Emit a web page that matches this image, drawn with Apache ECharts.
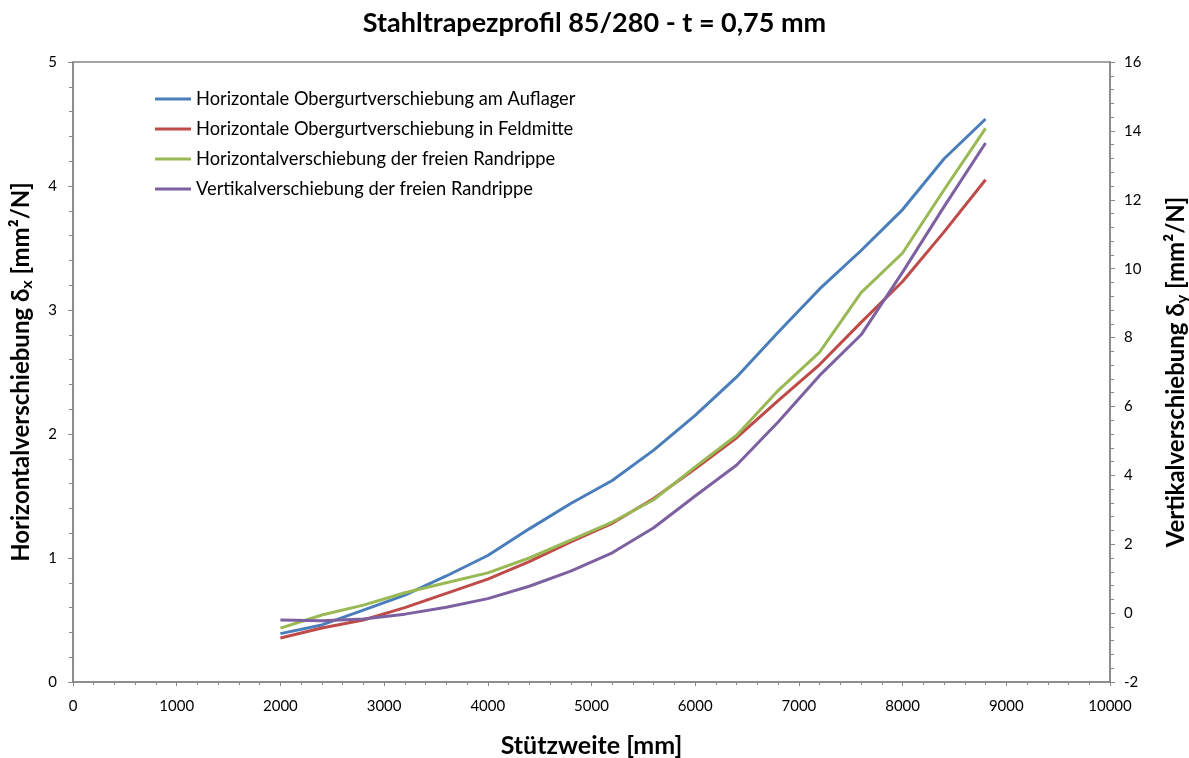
<!DOCTYPE html>
<html>
<head>
<meta charset="utf-8">
<script src="https://cdn.jsdelivr.net/npm/echarts@6/dist/echarts.min.js"></script>
<style>
  html, body { margin: 0; padding: 0; background: #ffffff; }
  #chart { width: 1189px; height: 758px; }
</style>
</head>
<body>
<div id="chart"></div>
<script>
// Span lengths (mm)
const spans = [2000, 2400, 2800, 3200, 3600, 4000, 4400, 4800, 5200, 5600, 6000, 6400, 6800, 7200, 7600, 8000, 8400, 8800];

// Horizontal displacements (left axis, mm²/N)
const obergurtAuflager = [0.39, 0.46, 0.58, 0.70, 0.855, 1.02, 1.235, 1.44, 1.625, 1.87, 2.15, 2.46, 2.82, 3.17, 3.48, 3.81, 4.22, 4.54];
const obergurtFeldmitte = [0.355, 0.435, 0.50, 0.60, 0.715, 0.83, 0.97, 1.13, 1.28, 1.48, 1.72, 1.97, 2.27, 2.56, 2.90, 3.23, 3.63, 4.05];
const randrippeHorizontal = [0.435, 0.54, 0.62, 0.72, 0.80, 0.88, 1.00, 1.145, 1.29, 1.47, 1.735, 1.99, 2.35, 2.66, 3.14, 3.46, 3.97, 4.465];

// Vertical displacement (right axis, mm²/N)
const randrippeVertikal = [-0.20, -0.22, -0.17, -0.03, 0.17, 0.42, 0.78, 1.22, 1.75, 2.48, 3.40, 4.30, 5.55, 6.90, 8.08, 9.90, 11.80, 13.65];

const seriesNames = [
  'Horizontale Obergurtverschiebung am Auflager',
  'Horizontale Obergurtverschiebung in Feldmitte',
  'Horizontalverschiebung der freien Randrippe',
  'Vertikalverschiebung der freien Randrippe'
];
const colors = ['#4A7EBB', '#BE4B48', '#98B954', '#7D60A0'];

const FONT = 'Lato';
const axisGray = '#868686';

function pairs(ys) { return spans.map((x, i) => [x, ys[i]]); }

function lineSeries(idx, ys, yAxisIndex) {
  return {
    name: seriesNames[idx],
    type: 'line',
    yAxisIndex: yAxisIndex,
    data: pairs(ys),
    showSymbol: false,
    symbol: 'none',
    lineStyle: { color: colors[idx], width: 3 },
    itemStyle: { color: colors[idx] },
    animation: false
  };
}

const axisNameRich = {
  a: { fontFamily: FONT, fontWeight: 'bold', fontSize: 24, color: '#000' },
  s: { fontFamily: FONT, fontWeight: 'bold', fontSize: 16, color: '#000', padding: [12, 0, 0, 0], verticalAlign: 'bottom' }
};

const plainNumber = v => String(v);

const chart = echarts.init(document.getElementById('chart'), null, { renderer: 'canvas' });
chart.setOption({
  backgroundColor: '#ffffff',
  animation: false,
  color: colors,
  title: {
    text: 'Stahltrapezprofil 85/280 - t = 0,75 mm',
    left: 'center',
    top: 5,
    textStyle: { fontFamily: FONT, fontWeight: 'bold', fontSize: 27, color: '#000' }
  },
  legend: {
    orient: 'vertical',
    left: 150,
    top: 85,
    itemGap: 12,
    itemWidth: 36,
    itemHeight: 3,
    icon: 'rect',
    textStyle: { fontFamily: FONT, fontSize: 18.3, color: '#000' },
    data: seriesNames
  },
  grid: {
    left: 73, right: 79, top: 62, bottom: 76,
    outerBoundsMode: 'none',
    containLabel: false,
    show: true, borderColor: axisGray, borderWidth: 1.5, backgroundColor: 'transparent'
  },
  xAxis: {
    type: 'value',
    min: 0, max: 10000, interval: 1000,
    name: 'Stützweite [mm]',
    nameLocation: 'middle',
    nameGap: 51,
    nameTextStyle: { fontFamily: FONT, fontWeight: 'bold', fontSize: 25, color: '#000' },
    axisLine: { show: true, onZero: false, lineStyle: { color: axisGray, width: 1.5 } },
    axisTick: { show: true, length: 4, lineStyle: { color: axisGray } },
    minorTick: { show: true, splitNumber: 5, length: 3, lineStyle: { color: axisGray } },
    axisLabel: { fontFamily: FONT, fontSize: 15, color: '#000', margin: 17, formatter: plainNumber },
    splitLine: { show: false }
  },
  yAxis: [
    {
      type: 'value',
      position: 'left',
      min: 0, max: 5, interval: 1,
      name: '{a|Horizontalverschiebung δ}{s|x}{a| [mm²/N]}',
      nameLocation: 'middle',
      nameRotate: 90,
      nameGap: 38,
      nameTextStyle: { rich: axisNameRich },
      axisLine: { show: true, lineStyle: { color: axisGray, width: 1.5 } },
      axisTick: { show: true, length: 5, lineStyle: { color: axisGray } },
      minorTick: { show: true, splitNumber: 5, length: 4, lineStyle: { color: axisGray } },
      axisLabel: { fontFamily: FONT, fontSize: 15, color: '#000', margin: 16, formatter: plainNumber },
      splitLine: { show: false }
    },
    {
      type: 'value',
      position: 'right',
      min: -2, max: 16, interval: 2,
      name: '{a|Vertikalverschiebung δ}{s|y}{a| [mm²/N]}',
      nameLocation: 'middle',
      nameRotate: 90,
      nameGap: 52,
      nameTextStyle: { rich: axisNameRich },
      axisLine: { show: true, lineStyle: { color: axisGray, width: 1.5 } },
      axisTick: { show: true, length: 5, lineStyle: { color: axisGray } },
      minorTick: { show: true, splitNumber: 5, length: 4, lineStyle: { color: axisGray } },
      axisLabel: { fontFamily: FONT, fontSize: 15, color: '#000', margin: 14, formatter: plainNumber },
      splitLine: { show: false }
    }
  ],
  series: [
    lineSeries(0, obergurtAuflager, 0),
    lineSeries(1, obergurtFeldmitte, 0),
    lineSeries(2, randrippeHorizontal, 0),
    lineSeries(3, randrippeVertikal, 1)
  ]
});
</script>
</body>
</html>
